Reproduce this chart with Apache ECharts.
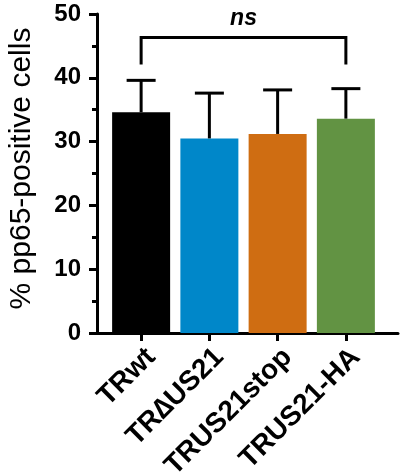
<!DOCTYPE html>
<html>
<head>
<meta charset="utf-8">
<script src="https://cdn.jsdelivr.net/npm/echarts@6/dist/echarts.min.js"></script>
<style>
  html, body {margin: 0; padding: 0; background: #fff;}
  #chart {width: 401px; height: 473px;}
</style>
</head>
<body>
<div id="chart"></div>
<script>
const categories = ['TRwt', 'TR\u2206US21', 'TRUS21stop', 'TRUS21-HA'];
const means = [34.6, 30.5, 31.2, 33.6];
const errors = [5.0, 7.1, 6.9, 4.7];
const barColors = ['#000000', '#0087c9', '#cf6d12', '#629343'];
const bracket = [[0, 3, 46.3, 42.1, 'ns']];

const chart = echarts.init(document.getElementById('chart'));
const font = 'Liberation Sans, Arial, sans-serif';

chart.setOption({
  animation: false,
  grid: [
    {left: 97, right: 3, top: 14, bottom: 140, outerBoundsMode: 'none', containLabel: false},
    {left: 107, right: 21, top: 14, bottom: 140, outerBoundsMode: 'none', containLabel: false}
  ],
  xAxis: [
    {
      gridIndex: 0, type: 'value', min: 0, max: 1,
      axisLine: {lineStyle: {color: '#000', width: 3}},
      axisTick: {show: false}, axisLabel: {show: false}, splitLine: {show: false}
    },
    {
      gridIndex: 1, type: 'category', data: categories,
      axisLine: {show: false},
      axisTick: {show: true, alignWithLabel: true, length: 8, lineStyle: {color: '#000', width: 3}},
      axisLabel: {
        rotate: 45, margin: 10, verticalAlign: 'top',
        color: '#000', fontWeight: 'bold', fontSize: 28, fontFamily: font
      }
    }
  ],
  yAxis: [
    {
      gridIndex: 0, type: 'value', min: 0, max: 50, interval: 10,
      name: '% pp65-positive cells', nameLocation: 'middle', nameGap: 60,
      nameTextStyle: {color: '#000', fontSize: 30, fontFamily: font, padding: [0, 0, 0, 10]},
      axisLine: {show: true, lineStyle: {color: '#000', width: 3}},
      axisTick: {show: true, length: 8, lineStyle: {color: '#000', width: 3}},
      minorTick: {show: true, splitNumber: 2, length: 5, lineStyle: {color: '#000', width: 3}},
      axisLabel: {color: '#000', fontWeight: 'bold', fontSize: 24, fontFamily: font, margin: 16},
      splitLine: {show: false}
    },
    {
      gridIndex: 1, type: 'value', min: 0, max: 50, show: false
    }
  ],
  series: [
    {
      type: 'bar', xAxisIndex: 1, yAxisIndex: 1, barWidth: 58,
      data: means.map((v, i) => ({value: v, itemStyle: {color: barColors[i]}}))
    },
    {
      type: 'custom', xAxisIndex: 1, yAxisIndex: 1,
      data: means.map((v, i) => [i, v, v + errors[i]]),
      renderItem: (params, api) => {
        const base = api.coord([api.value(0), api.value(1)]);
        const top = api.coord([api.value(0), api.value(2)]);
        const half = 14.5;
        const style = {stroke: '#000', lineWidth: 3};
        return {
          type: 'group',
          children: [
            {type: 'line', shape: {x1: base[0], y1: base[1], x2: top[0], y2: top[1]}, style},
            {type: 'line', shape: {x1: top[0] - half, y1: top[1], x2: top[0] + half, y2: top[1]}, style}
          ]
        };
      },
      z: 3
    },
    {
      type: 'custom', xAxisIndex: 1, yAxisIndex: 1,
      data: bracket,
      renderItem: (params, api) => {
        const a = api.coord([api.value(0), api.value(2)]);
        const b = api.coord([api.value(1), api.value(2)]);
        const leg = api.coord([api.value(0), api.value(3)])[1];
        const style = {stroke: '#000', lineWidth: 3, fill: null};
        return {
          type: 'group',
          children: [
            {type: 'polyline', shape: {points: [[a[0], leg], a, b, [b[0], leg]]}, style},
            {
              type: 'text',
              style: {
                text: bracket[params.dataIndex][4],
                x: (a[0] + b[0]) / 2, y: a[1] - 7,
                align: 'center', verticalAlign: 'bottom',
                fill: '#000', font: 'italic bold 23px ' + font
              }
            }
          ]
        };
      },
      z: 3
    }
  ]
});
</script>
</body>
</html>
